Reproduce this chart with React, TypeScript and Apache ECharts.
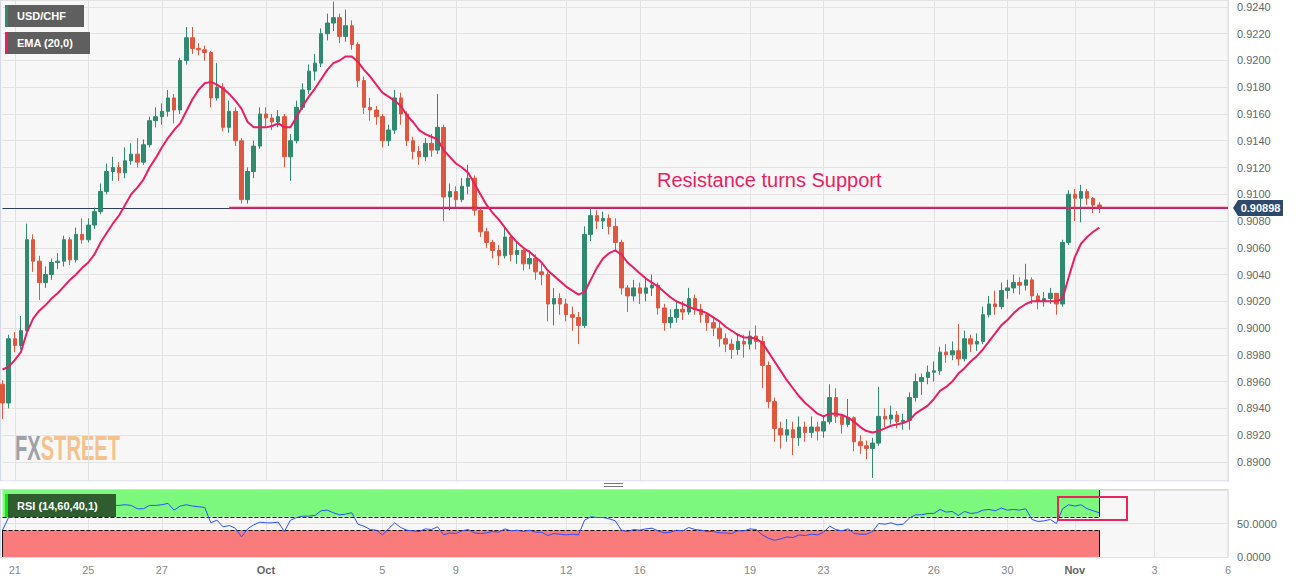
import React, { useEffect, useRef } from 'react';
import * as echarts from 'echarts';

const FONT = '"Liberation Sans", Arial, sans-serif';
const GREEN = '#2f8a70';
const RED = '#e0573f';
const PINK = '#e91e63';

// x axis: 4-hour slots on a trading-day time line (categories are slot numbers)
const slotCount = 201;
const categories = Array.from({ length: slotCount }, (_, i) => String(i));
const xTickLabels = ['21', '25', '27', 'Oct', '5', '9', '12', '16', '19', '23', '26', '30', 'Nov', '3', '6'];
const xTickSlots = [2, 14, 26, 43, 62, 74, 92, 104, 122, 134, 152, 164, 175, 188, 200];
const monthLabels = ['Oct', 'Nov'];

// price axis range shown in the main panel
const priceMin = 0.888;
const priceMax = 0.92452;
const priceStep = 0.002;

// USD/CHF candles (4h)
const opens = [
  .8958, .8944, .8992, .8987, .8998, .9066, .9050, .9034, .9040, .9049,
  .9050, .9066, .9051, .9070, .9066, .9077, .9087, .9102, .9117, .9120,
  .9116, .9125, .9130, .9124, .9137, .9155, .9158, .9162, .9172, .9163,
  .9200, .9217, .9209, .9208, .9206, .9172, .9180, .9150, .9162, .9140,
  .9096, .9117, .9136, .9160, .9157, .9154, .9158, .9128, .9140, .9165,
  .9178, .9192, .9198, .9220, .9228, .9232, .9218, .9226, .9212, .9185,
  .9165, .9163, .9158, .9140, .9148, .9172, .9160, .9140, .9132, .9128,
  .9138, .9133, .9150, .9098, .9102, .9096, .9106, .9112, .9088, .9072,
  .9064, .9058, .9054, .9068, .9055, .9058, .9048, .9052, .9042, .9040,
  .9018, .9022, .9018, .9010, .9008, .9002, .9070, .9084, .9080, .9082,
  .9076, .9064, .9030, .9024, .9030, .9026, .9030, .9032, .9015, .9004,
  .9008, .9014, .9012, .9022, .9014, .9010, .9004, .9000, .8992, .8988,
  .8984, .8990, .8988, .8994, .8990, .8972, .8945, .8925, .8920, .8924,
  .8918, .8926, .8922, .8926, .8923, .8930, .8948, .8934, .8928, .8933,
  .8915, .8912, .8910, .8914, .8934, .8932, .8935, .8930, .8931, .8948,
  .8960, .8963, .8967, .8968, .8982, .8980, .8983, .8977, .8992, .8988,
  .8990, .9010, .9018, .9016, .9028, .9030, .9034, .9032, .9036, .9024,
  .9020, .9022, .9026, .9018, .9064, .9100, .9097, .9102, .9097, .9092,
];
const closes = [
  .8944, .8992, .8987, .8998, .9066, .9050, .9034, .9040, .9049, .9050,
  .9066, .9051, .9070, .9066, .9077, .9087, .9102, .9117, .9120, .9116,
  .9125, .9130, .9124, .9137, .9155, .9158, .9162, .9172, .9163, .9200,
  .9217, .9209, .9208, .9206, .9172, .9180, .9150, .9162, .9140, .9096,
  .9117, .9136, .9160, .9157, .9154, .9158, .9128, .9140, .9165, .9178,
  .9192, .9198, .9220, .9228, .9232, .9218, .9226, .9212, .9185, .9165,
  .9163, .9158, .9140, .9148, .9172, .9160, .9140, .9132, .9128, .9138,
  .9133, .9150, .9098, .9102, .9096, .9106, .9112, .9088, .9072, .9064,
  .9058, .9054, .9068, .9055, .9058, .9048, .9052, .9042, .9040, .9018,
  .9022, .9018, .9010, .9008, .9002, .9070, .9084, .9080, .9082, .9076,
  .9064, .9030, .9024, .9030, .9026, .9030, .9032, .9015, .9004, .9008,
  .9014, .9012, .9022, .9014, .9010, .9004, .9000, .8992, .8988, .8984,
  .8990, .8988, .8994, .8990, .8972, .8945, .8925, .8920, .8924, .8918,
  .8926, .8922, .8926, .8923, .8930, .8948, .8934, .8928, .8933, .8915,
  .8912, .8910, .8914, .8934, .8932, .8935, .8930, .8931, .8948, .8960,
  .8963, .8967, .8968, .8982, .8980, .8983, .8977, .8992, .8988, .8990,
  .9010, .9018, .9016, .9028, .9030, .9034, .9032, .9036, .9024, .9020,
  .9022, .9026, .9018, .9064, .9100, .9097, .9102, .9097, .9092, .90898,
];
const highs = [
  .8961, .8995, .8997, .9009, .9078, .9070, .9054, .9046, .9052, .9056,
  .9069, .9068, .9075, .9082, .9082, .9090, .9108, .9123, .9128, .9124,
  .9135, .9138, .9142, .9141, .9158, .9165, .9168, .9178, .9175, .9202,
  .9225, .9225, .9213, .9211, .9207, .9198, .9183, .9170, .9165, .9142,
  .9120, .9140, .9165, .9165, .9160, .9163, .9160, .9145, .9170, .9183,
  .9197, .9205, .9224, .9235, .9244, .9235, .9238, .9230, .9214, .9188,
  .9172, .9166, .9160, .9152, .9178, .9176, .9162, .9143, .9136, .9142,
  .9145, .9175, .9152, .9108, .9106, .9112, .9122, .9114, .9090, .9075,
  .9066, .9062, .9075, .9070, .9064, .9060, .9058, .9055, .9048, .9042,
  .9030, .9026, .9022, .9016, .9012, .9076, .9090, .9088, .9087, .9085,
  .9082, .9066, .9032, .9036, .9034, .9038, .9040, .9034, .9018, .9014,
  .9020, .9020, .9030, .9025, .9018, .9012, .9008, .9004, .8996, .8992,
  .8996, .8995, .8998, .9002, .8994, .8975, .8948, .8930, .8932, .8930,
  .8934, .8930, .8934, .8930, .8935, .8958, .8955, .8936, .8947, .8934,
  .8920, .8916, .8918, .8956, .8940, .8942, .8938, .8936, .8952, .8966,
  .8966, .8972, .8975, .8986, .8988, .8990, .9003, .8998, .8995, .8996,
  .9016, .9024, .9028, .9034, .9036, .9040, .9038, .9048, .9038, .9026,
  .9027, .9030, .9026, .9066, .9103, .9104, .9107, .9104, .9098, .9094,
];
const lows = [
  .8932, .8940, .8982, .8984, .8995, .9042, .9021, .9030, .9036, .9044,
  .9046, .9047, .9049, .9063, .9064, .9074, .9085, .9100, .9110, .9110,
  .9112, .9122, .9120, .9122, .9135, .9150, .9152, .9158, .9153, .9160,
  .9197, .9205, .9204, .9200, .9165, .9170, .9147, .9146, .9136, .9093,
  .9093, .9112, .9134, .9150, .9148, .9150, .9120, .9110, .9138, .9163,
  .9175, .9185, .9195, .9215, .9222, .9213, .9214, .9208, .9180, .9160,
  .9155, .9152, .9135, .9136, .9145, .9152, .9136, .9126, .9122, .9125,
  .9128, .9130, .9080, .9088, .9090, .9094, .9100, .9084, .9068, .9060,
  .9052, .9047, .9052, .9050, .9048, .9043, .9044, .9036, .9032, .9005,
  .9002, .9010, .9005, .8998, .8988, .9000, .9065, .9074, .9074, .9070,
  .9058, .9025, .9012, .9020, .9018, .9020, .9024, .9010, .8998, .9000,
  .9004, .9006, .9010, .9010, .9004, .8998, .8994, .8986, .8982, .8977,
  .8980, .8978, .8984, .8984, .8955, .8940, .8915, .8910, .8915, .8905,
  .8912, .8915, .8918, .8916, .8918, .8928, .8929, .8921, .8926, .8908,
  .8906, .8902, .8888, .8912, .8926, .8928, .8925, .8924, .8924, .8945,
  .8950, .8958, .8960, .8965, .8974, .8976, .8972, .8975, .8982, .8983,
  .8988, .9008, .9010, .9014, .9022, .9026, .9025, .9028, .9018, .9014,
  .9016, .9018, .9010, .9016, .9062, .9080, .9079, .9092, .9086, .9086,
];
// EMA (20,0) as drawn
const emaValues = [
  .8969, .8971, .8976, .8982, .8997, .9007, .9013, .9017, .9022, .9026,
  .9031, .9036, .9040, .9045, .9049, .9055, .9064, .9071, .9078, .9084,
  .9092, .9100, .9105, .9111, .9120, .9127, .9135, .9142, .9148, .9153,
  .9162, .9171, .9178, .9183, .9184, .9182, .9179, .9175, .9170, .9164,
  .9154, .9150, .9150, .9150, .9151, .9153, .9150, .9150, .9158, .9166,
  .9173, .9179, .9186, .9193, .9198, .9200, .9203, .9203, .9199, .9193,
  .9188, .9182, .9176, .9173, .9170, .9166, .9159, .9154, .9148, .9145,
  .9143, .9141, .9133, .9128, .9123, .9120, .9116, .9108, .9100, .9092,
  .9086, .9081, .9075, .9069, .9064, .9060, .9057, .9053, .9049, .9043,
  .9039, .9035, .9031, .9028, .9025, .9027, .9036, .9045, .9052, .9056,
  .9058, .9055, .9049, .9045, .9041, .9037, .9034, .9031, .9027, .9023,
  .9020, .9018, .9016, .9014, .9013, .9011, .9008, .9005, .9001, .8998,
  .8995, .8993, .8993, .8992, .8989, .8982, .8975, .8968, .8961, .8955,
  .8949, .8944, .8940, .8936, .8934, .8936, .8936, .8935, .8933, .8930,
  .8926, .8923, .8922, .8923, .8925, .8927, .8928, .8929, .8931, .8936,
  .8939, .8942, .8947, .8953, .8956, .8960, .8966, .8970, .8975, .8979,
  .8984, .8990, .8996, .9002, .9006, .9011, .9015, .9018, .9020, .9020,
  .9020, .9020, .9020, .9022, .9038, .9053, .9063, .9068, .9072, .9075,
];
// RSI (14,60,40,1) as drawn
const rsiValues = [
  40, 59, 60, 62, 70, 67, 62, 61, 61, 61,
  62, 64, 66, 72, 73, 73, 74, 73, 77, 77,
  78, 77, 72, 72, 77, 77, 78, 80, 70, 76,
  78, 76, 75, 74, 51, 55, 45, 47, 43, 30,
  42, 48, 52, 51, 51, 52, 38, 55, 59, 61,
  61, 62, 69, 70, 66, 63, 64, 66, 49, 46,
  41, 40, 33, 42, 51, 44, 40, 39, 38, 42,
  41, 45, 33, 36, 35, 39, 41, 36, 35, 36,
  38, 37, 42, 39, 40, 38, 40, 37, 37, 32,
  35, 34, 33, 34, 33, 55, 60, 59, 59, 57,
  54, 40, 38, 41, 40, 42, 43, 39, 36, 37,
  40, 39, 44, 41, 40, 38, 38, 36, 36, 35,
  39, 39, 42, 41, 33, 28, 25, 27, 30, 29,
  33, 32, 34, 33, 37, 46, 41, 39, 42, 35,
  34, 34, 38, 50, 49, 51, 48, 49, 58, 63,
  63, 65, 65, 71, 67, 68, 62, 68, 65, 66,
  70, 71, 69, 73, 70, 71, 70, 72, 56, 53,
  54, 56, 50, 72, 78, 76, 78, 72, 69, 66,
];
const rsiUpper = 60;
const rsiLower = 40;
const lastPrice = 0.90898;
const supportLevel = 0.9090;
const supportStartSlot = 37;
const lastSlot = closes.length - 1;

const tickMap = new Map<number, string>();
xTickSlots.forEach((s, i) => tickMap.set(s, xTickLabels[i]));

function buildGraphics(py: number | null) {
  const els: any[] = [
    { id: 'bgMain', type: 'rect', z: -100, shape: { x: 0.5, y: 0.5, width: 1227.5, height: 480.5 }, style: { fill: '#f7f7f7', stroke: '#d4d7e6', lineWidth: 1 } },
    { id: 'bgRsi', type: 'rect', z: -100, shape: { x: 0.5, y: 489.5, width: 1227.5, height: 68 }, style: { fill: '#f7f7f7', stroke: '#d4d7e6', lineWidth: 1 } },
    { id: 'gap', type: 'rect', z: 50, shape: { x: 0, y: 481.5, width: 1300, height: 7.5 }, style: { fill: '#ffffff' } },
    { id: 'h1', type: 'line', z: 70, shape: { x1: 604, y1: 483.5, x2: 623, y2: 483.5 }, style: { stroke: '#777', lineWidth: 1 } },
    { id: 'h2', type: 'line', z: 70, shape: { x1: 604, y1: 486.5, x2: 623, y2: 486.5 }, style: { stroke: '#777', lineWidth: 1 } },
    {
      id: 'wm', type: 'group', x: 15, y: 447.5, scaleX: 0.575, z: -50,
      children: [
        { type: 'text', x: 0, y: 0, z: -50, style: { text: 'FX', fill: '#9fa2a9', fontSize: 35, fontWeight: 'bold', fontFamily: FONT, verticalAlign: 'middle' } },
        { type: 'text', x: 44.7, y: 0, z: -50, style: { text: 'STREET', fill: '#f4c28d', fontSize: 35, fontWeight: 'bold', fontFamily: FONT, verticalAlign: 'middle' } },
      ],
    },
    { id: 'l1', type: 'rect', z: 60, shape: { x: 5, y: 5, width: 79, height: 22 }, style: { fill: '#5f5f5f' } },
    { id: 'l1s', type: 'rect', z: 61, shape: { x: 5, y: 5, width: 3, height: 22 }, style: { fill: GREEN } },
    { id: 'l1t', type: 'text', z: 62, x: 17, y: 16, style: { text: 'USD/CHF', fill: '#fff', fontSize: 11, fontWeight: 'bold', fontFamily: FONT, verticalAlign: 'middle' } },
    { id: 'l2', type: 'rect', z: 60, shape: { x: 5, y: 32, width: 85, height: 22 }, style: { fill: '#5f5f5f' } },
    { id: 'l2s', type: 'rect', z: 61, shape: { x: 5, y: 32, width: 3, height: 22 }, style: { fill: PINK } },
    { id: 'l2t', type: 'text', z: 62, x: 17, y: 43, style: { text: 'EMA (20,0)', fill: '#fff', fontSize: 11, fontWeight: 'bold', fontFamily: FONT, verticalAlign: 'middle' } },
    { id: 'res', type: 'text', z: 62, x: 657, y: 180, style: { text: 'Resistance turns Support', fill: PINK, fontSize: 20, fontFamily: FONT, verticalAlign: 'middle' } },
    { id: 'rsS', type: 'rect', z: 60, shape: { x: 5, y: 494, width: 3, height: 23 }, style: { fill: '#00f000' } },
    { id: 'rsB', type: 'rect', z: 60, shape: { x: 8, y: 494, width: 108, height: 23 }, style: { fill: '#2f5d2f' } },
    { id: 'rsT', type: 'text', z: 61, x: 17, y: 505.5, style: { text: 'RSI (14,60,40,1)', fill: '#fff', fontSize: 11, fontWeight: 'bold', fontFamily: FONT, verticalAlign: 'middle' } },
    { id: 'ann', type: 'rect', z: 70, shape: { x: 1058, y: 497, width: 69, height: 23 }, style: { fill: 'none', stroke: '#e8245f', lineWidth: 2 } },
  ];
  if (py != null) {
    els.push(
      { id: 'tagBox', type: 'polygon', z: 60, shape: { points: [[1233, py], [1238, py - 8], [1283, py - 8], [1283, py + 8], [1238, py + 8]] }, style: { fill: '#2d4a6d' } },
      { id: 'tagText', type: 'text', z: 61, x: 1260.5, y: py, style: { text: lastPrice.toFixed(5), fill: '#fff', fontSize: 11, fontWeight: 'bold', fontFamily: FONT, align: 'center', verticalAlign: 'middle' } },
    );
  }
  return els;
}

function buildOption(py: number | null) {
  const candleData = closes.map((c, i) => [opens[i], c, lows[i], highs[i]]);
  const tickInterval = (i: number) => tickMap.has(i);
  const splitStyle = { color: '#e3e3e3', width: 1 };
  return {
    animation: false,
    backgroundColor: '#ffffff',
    textStyle: { fontFamily: FONT },
    grid: [
      { left: 2.5, width: 1225.5, top: 0, height: 488.6 },
      { left: 2.5, width: 1225.5, top: 490, height: 67 },
    ],
    xAxis: [
      {
        type: 'category', gridIndex: 0, data: categories, boundaryGap: false,
        axisLine: { show: false }, axisTick: { show: false }, axisLabel: { show: false },
        splitLine: { show: true, interval: tickInterval, lineStyle: splitStyle },
      },
      {
        type: 'category', gridIndex: 1, data: categories, boundaryGap: false,
        axisLine: { show: false }, axisTick: { show: false },
        axisLabel: {
          show: true, interval: tickInterval, margin: 7, color: '#888', fontSize: 11, fontFamily: FONT,
          formatter: (v: string) => {
            const t = tickMap.get(Number(v)) || '';
            return monthLabels.includes(t) ? `{m|${t}}` : t;
          },
          rich: { m: { fontWeight: 'bold', color: '#666', fontSize: 11, fontFamily: FONT } },
        },
        splitLine: { show: true, interval: tickInterval, lineStyle: splitStyle },
      },
    ],
    yAxis: [
      {
        type: 'value', gridIndex: 0, position: 'right', min: priceMin, max: priceMax, interval: priceStep,
        axisLine: { show: false }, axisTick: { show: false },
        axisLabel: { margin: 9, color: '#666', fontSize: 11, fontFamily: FONT, showMinLabel: false, showMaxLabel: false, formatter: (v: number) => v.toFixed(4) },
        splitLine: { show: true, lineStyle: splitStyle },
      },
      {
        type: 'value', gridIndex: 1, position: 'right', min: 0, max: 100, interval: 50,
        axisLine: { show: false }, axisTick: { show: false },
        axisLabel: { margin: 9, color: '#666', fontSize: 11, fontFamily: FONT, showMaxLabel: false, formatter: (v: number) => v.toFixed(4) },
        splitLine: { show: true, lineStyle: splitStyle },
      },
    ],
    series: [
      {
        name: 'USD/CHF', type: 'candlestick', xAxisIndex: 0, yAxisIndex: 0, data: candleData, barWidth: 4, z: 2,
        itemStyle: { color: GREEN, color0: RED, borderColor: GREEN, borderColor0: RED, borderWidth: 1 },
      },
      {
        name: 'EMA (20,0)', type: 'line', xAxisIndex: 0, yAxisIndex: 0, data: emaValues, showSymbol: false, symbol: 'none', z: 3,
        lineStyle: { color: PINK, width: 2 },
        markLine: {
          symbol: 'none', silent: true, label: { show: false }, z: 1,
          lineStyle: { color: '#2c3e5c', width: 1, type: 'solid' },
          data: [[{ coord: [0, lastPrice] }, { coord: [slotCount - 1, lastPrice] }]],
        },
      },
      {
        name: 'Support', type: 'line', xAxisIndex: 0, yAxisIndex: 0, showSymbol: false, symbol: 'none', z: 4,
        data: [[supportStartSlot, supportLevel], [slotCount - 1, supportLevel]],
        lineStyle: { color: PINK, width: 2 },
      },
      {
        name: 'RSI', type: 'line', xAxisIndex: 1, yAxisIndex: 1, data: rsiValues, showSymbol: false, symbol: 'none', z: 5,
        lineStyle: { color: '#2a50ff', width: 1 },
        markArea: {
          silent: true,
          data: [
            [{ coord: [0, rsiUpper], itemStyle: { color: '#7cf97c', opacity: 1 } }, { coord: [lastSlot, 100] }],
            [{ coord: [0, 0], itemStyle: { color: '#fa7b7b', opacity: 1 } }, { coord: [lastSlot, rsiLower] }],
          ],
        },
        markLine: {
          symbol: 'none', silent: true, label: { show: false },
          lineStyle: { color: '#111', width: 1, type: 'dashed' },
          data: [
            [{ coord: [0, rsiUpper] }, { coord: [lastSlot, rsiUpper] }],
            [{ coord: [0, rsiLower] }, { coord: [lastSlot, rsiLower] }],
            [{ coord: [lastSlot, rsiUpper], lineStyle: { type: 'solid', color: '#111' } }, { coord: [lastSlot, 100] }],
            [{ coord: [lastSlot, 0], lineStyle: { type: 'solid', color: '#111' } }, { coord: [lastSlot, rsiLower] }],
            [{ coord: [0, 0], lineStyle: { type: 'solid', color: '#111' } }, { coord: [0, rsiLower] }],
          ],
        },
      },
    ],
    graphic: { elements: buildGraphics(py) },
  };
}

export default function App() {
  const ref = useRef<HTMLDivElement>(null);
  useEffect(() => {
    document.body.style.margin = '0';
    const chart = echarts.init(ref.current as HTMLDivElement, null, { renderer: 'svg' });
    chart.setOption(buildOption(null) as any);
    const py = chart.convertToPixel({ yAxisIndex: 0 } as any, lastPrice) as unknown as number;
    chart.setOption(buildOption(typeof py === 'number' ? py : null) as any, true);
    return () => chart.dispose();
  }, []);
  return <div ref={ref} style={{ width: 1300, height: 584 }} />;
}
